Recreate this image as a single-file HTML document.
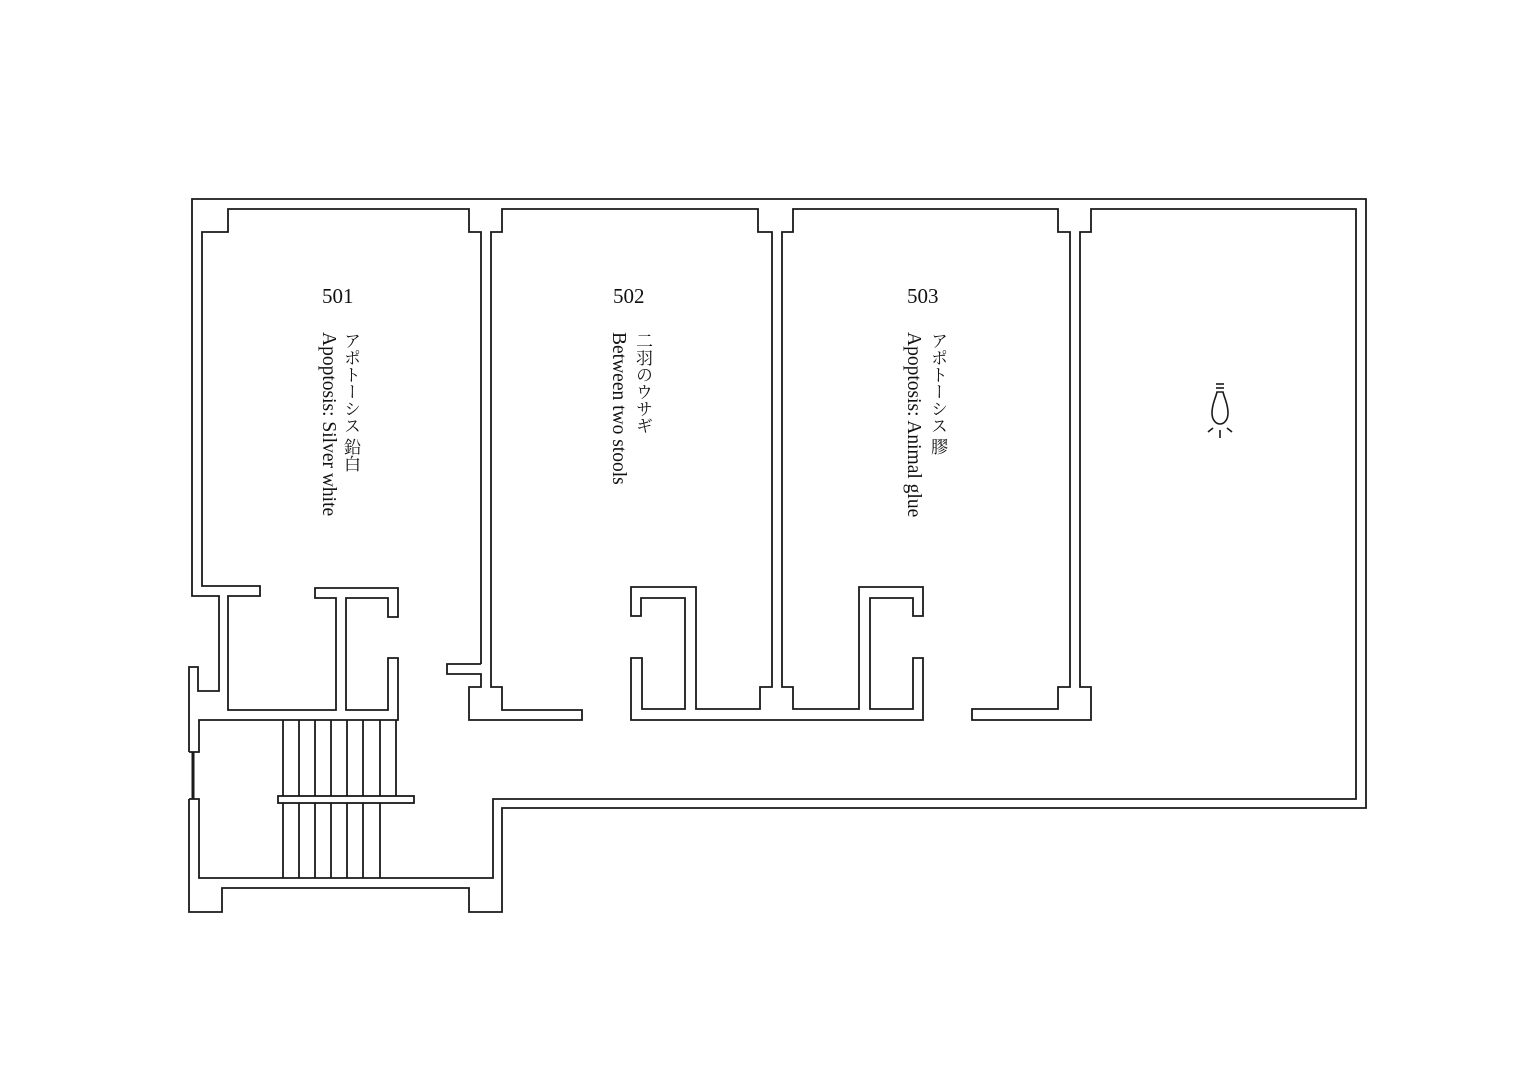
<!DOCTYPE html>
<html><head><meta charset="utf-8"><style>
body{margin:0;background:#fff;width:1515px;height:1080px;overflow:hidden;position:relative;font-family:"Liberation Serif","Noto Serif CJK JP",serif;color:#111}
svg{position:absolute;left:0;top:0}
.n{position:absolute;font-size:21px;line-height:20px}
.v{position:absolute;writing-mode:vertical-rl;font-size:17px;line-height:20px;width:20px;white-space:nowrap}
.e{font-size:19.5px}
</style></head><body>
<svg width="1515" height="1080" viewBox="0 0 1515 1080" fill="none" stroke="#1a1a1a" stroke-width="1.8">
<polyline points="189,752 189,667 198,667 198,691 219,691 219,596 192,596 192,199 1366,199 1366,808 502,808 502,912 469,912 469,888 222,888 222,912 189,912 189,799"/>
<polyline points="481,664 481,232 469,232 469,209 228,209 228,232 202,232 202,586 260,586 260,596 228,596 228,710 336,710 336,598 315,598 315,588 398,588 398,617 388,617 388,598 346,598 346,710 388,710 388,658 398,658 398,720 199,720 199,752 189,752"/>
<polyline points="481,664 447,664 447,674 481,674 481,687 469,687 469,720 582,720 582,710 502,710 502,687 491,687 491,232 502,232 502,209 758,209 758,232 772,232 772,687 760,687 760,709 696,709 696,587 631,587 631,616 641,616 641,598 685,598 685,709 642,709 642,658 631,658 631,720 923,720 923,658 913,658 913,709 870,709 870,598 913,598 913,616 923,616 923,587 859,587 859,709 793,709 793,687 782,687 782,232 793,232 793,209 1058,209 1058,232 1070,232 1070,687 1058,687 1058,709 972,709 972,720 1091,720 1091,687 1080,687 1080,232 1091,232 1091,209 1356,209 1356,799 493,799 493,878 199,878 199,799 189,799"/>
<line x1="193" y1="752" x2="193" y2="799" stroke-width="3"/>
<g>
<line x1="283" y1="720" x2="283" y2="796"/><line x1="299" y1="720" x2="299" y2="796"/><line x1="315" y1="720" x2="315" y2="796"/><line x1="331" y1="720" x2="331" y2="796"/><line x1="347" y1="720" x2="347" y2="796"/><line x1="363" y1="720" x2="363" y2="796"/><line x1="380" y1="720" x2="380" y2="796"/><line x1="396" y1="720" x2="396" y2="796"/>
<line x1="283" y1="803" x2="283" y2="878"/><line x1="299" y1="803" x2="299" y2="878"/><line x1="315" y1="803" x2="315" y2="878"/><line x1="331" y1="803" x2="331" y2="878"/><line x1="347" y1="803" x2="347" y2="878"/><line x1="363" y1="803" x2="363" y2="878"/><line x1="380" y1="803" x2="380" y2="878"/>
<rect x="278" y="796" width="136" height="7"/>
</g>
<g stroke-width="1.6">
<line x1="1216" y1="384" x2="1224" y2="384"/><line x1="1216" y1="388" x2="1224" y2="388"/>
<path d="M1217,392 L1223,392 C1225,400 1228,404 1228,413 C1228,420 1224,424 1220,424 C1216,424 1212,420 1212,413 C1212,404 1215,400 1217,392 Z"/>
<line x1="1220" y1="430" x2="1220" y2="438"/><line x1="1208" y1="432" x2="1213" y2="428"/><line x1="1232" y1="432" x2="1227" y2="428"/>
</g>
</svg>
<div class="n" style="left:322px;top:286px">501</div>
<div class="n" style="left:613px;top:286px">502</div>
<div class="n" style="left:907px;top:286px">503</div>
<div class="v" style="left:340px;top:332px">アポトーシス 鉛白</div>
<div class="v e" style="left:318px;top:332px">Apoptosis: Silver white</div>
<div class="v" style="left:632px;top:332px">二羽のウサギ</div>
<div class="v e" style="left:608px;top:332px">Between two stools</div>
<div class="v" style="left:927px;top:332px">アポトーシス 膠</div>
<div class="v e" style="left:903px;top:332px">Apoptosis: Animal glue</div>
</body></html>
